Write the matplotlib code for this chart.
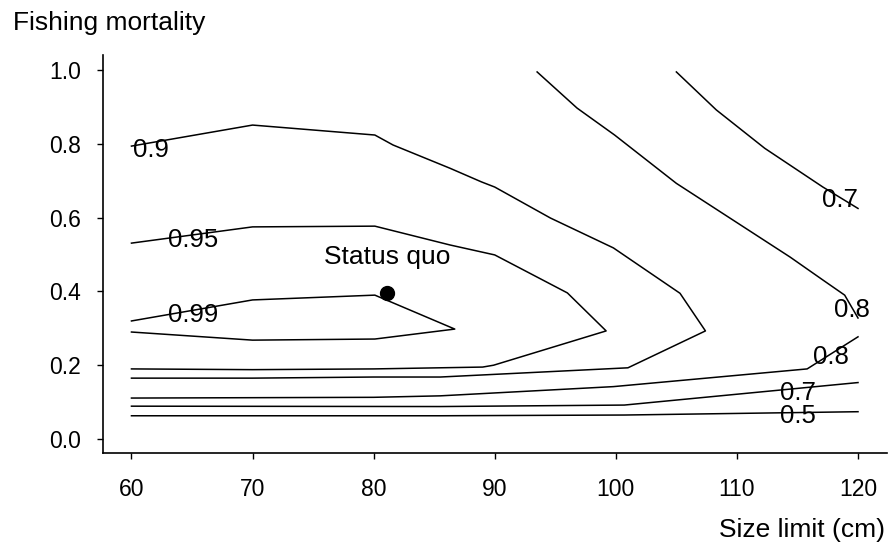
import matplotlib
matplotlib.use("Agg")
import matplotlib.pyplot as plt

plt.rcParams['font.family'] = ['Liberation Sans', 'DejaVu Sans']

# contour lines (size limit, fishing mortality)
c099_x = [60, 70, 80.1, 86.7, 80.1, 70, 60]
c099_y = [0.320, 0.377, 0.390, 0.298, 0.271, 0.268, 0.290]

c095_x = [60, 70, 80.1, 86.3, 90, 96.0, 99.2, 89.9, 89.0, 80, 70, 60]
c095_y = [0.531, 0.575, 0.577, 0.526, 0.499, 0.396, 0.293, 0.200, 0.195, 0.190, 0.188, 0.190]

c090_x = [60, 70, 80.1, 81.6, 86.3, 88.9, 90, 94.6, 99.8, 105.3, 107.4, 101.0, 85.5, 80, 70, 60]
c090_y = [0.794, 0.851, 0.824, 0.797, 0.734, 0.697, 0.683, 0.599, 0.518, 0.395, 0.293, 0.193, 0.168, 0.168, 0.165, 0.165]

c080a_x = [93.5, 96.8, 99.9, 105, 114.4, 117.1, 118.9, 120]
c080a_y = [0.995, 0.897, 0.824, 0.693, 0.493, 0.431, 0.390, 0.328]

c080b_x = [60, 80, 85.5, 99.8, 115.8, 120]
c080b_y = [0.111, 0.113, 0.117, 0.142, 0.190, 0.277]

c070a_x = [105, 108.3, 112.3, 117.1, 120]
c070a_y = [0.995, 0.892, 0.788, 0.683, 0.625]

c070b_x = [60, 85.5, 100.7, 120]
c070b_y = [0.089, 0.088, 0.092, 0.153]

c050_x = [60, 85.5, 100.7, 120]
c050_y = [0.063, 0.063, 0.065, 0.074]

# contour labels
lab_text = ['0.9', '0.95', '0.99', '0.7', '0.8', '0.8', '0.7', '0.5']
lab_x = [61.6, 65.1, 65.1, 118.5, 119.5, 117.8, 115.0, 115.0]
lab_y = [0.764, 0.520, 0.317, 0.629, 0.331, 0.203, 0.106, 0.043]

sq_x = 81.1
sq_y = 0.396

x_ticks = [60, 70, 80, 90, 100, 110, 120]
y_ticks = [0.0, 0.2, 0.4, 0.6, 0.8, 1.0]

fig = plt.figure(figsize=(8.95, 5.47), dpi=100)
ax = fig.add_axes([0.1151, 0.1718, 0.991 - 0.1151, 0.8995 - 0.1718])

lines = [(c099_x, c099_y), (c095_x, c095_y), (c090_x, c090_y),
         (c080a_x, c080a_y), (c080b_x, c080b_y),
         (c070a_x, c070a_y), (c070b_x, c070b_y), (c050_x, c050_y)]
for xs, ys in lines:
    ax.plot(xs, ys, color='black', lw=1.1)

for t, x, y in zip(lab_text, lab_x, lab_y):
    ax.text(x, y, t, fontsize=18.5, ha='center', va='baseline')

ax.plot([sq_x], [sq_y], 'o', color='black', markersize=10)
ax.text(81.1, 0.474, 'Status quo', fontsize=19, ha='center', va='baseline')

ax.set_xlim(57.65, 122.39)
ax.set_ylim(-0.038, 1.041)
ax.set_xticks(x_ticks)
ax.set_yticks(y_ticks)
ax.set_yticklabels(['%.1f' % v for v in y_ticks])
ax.tick_params(axis='both', labelsize=16.5, length=4, width=1.0)
ax.tick_params(axis='x', pad=14)
ax.tick_params(axis='y', pad=12)
ax.spines['top'].set_visible(False)
ax.spines['right'].set_visible(False)
for s in ['left', 'bottom']:
    ax.spines[s].set_linewidth(1.2)

fig.text(13 / 895, 1 - 30 / 547, 'Fishing mortality', fontsize=19, ha='left', va='baseline')
fig.text(885 / 895, 10 / 547, 'Size limit (cm)', fontsize=19, ha='right', va='baseline')

fig.savefig('out.png', dpi=100)
